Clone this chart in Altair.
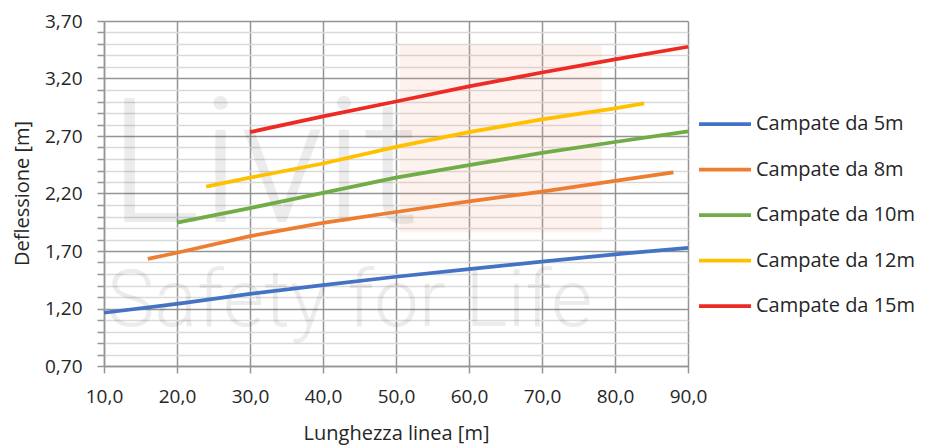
import altair as alt
import pandas as pd

# ---------------- data ----------------
series_names = ["Campate da 5m", "Campate da 8m", "Campate da 10m",
                "Campate da 12m", "Campate da 15m"]
series_colors = ["#4472C4", "#ED7D31", "#70AD47", "#FFC000", "#EE2A24"]

x_5m = [10, 20, 30, 40, 50, 60, 70, 80, 90]
y_5m = [1.163, 1.240, 1.327, 1.404, 1.476, 1.542, 1.608, 1.671, 1.728]

x_8m = [16, 20, 30, 40, 50, 60, 70, 80, 88]
y_8m = [1.631, 1.685, 1.829, 1.944, 2.039, 2.131, 2.217, 2.309, 2.384]

x_10m = [20, 30, 40, 50, 60, 70, 80, 90]
y_10m = [1.947, 2.073, 2.206, 2.338, 2.447, 2.553, 2.648, 2.740]

x_12m = [24, 30, 40, 50, 60, 70, 80, 84]
y_12m = [2.260, 2.338, 2.461, 2.605, 2.734, 2.844, 2.941, 2.984]

x_15m = [30, 40, 50, 60, 70, 80, 90]
y_15m = [2.734, 2.870, 3.000, 3.131, 3.252, 3.366, 3.476]

x_ticks = [10, 20, 30, 40, 50, 60, 70, 80, 90]
y_major = [0.7, 1.2, 1.7, 2.2, 2.7, 3.2, 3.7]
y_all = [round(0.7 + 0.1 * i, 1) for i in range(31)]

x_title = "Lunghezza linea [m]"
y_title = "Deflessione [m]"

# faint watermark
wm_texts = ["Livit", "Safety for Life"]
wm_x = [10.6, 10.4]
wm_y = [1.95, 1.05]
wm_rect_x = [50.5]
wm_rect_x2 = [78.2]
wm_rect_y = [3.49]
wm_rect_y2 = [1.86]

# ---------------- build table ----------------
rows = []
for name, xs, ys in zip(series_names,
                        [x_5m, x_8m, x_10m, x_12m, x_15m],
                        [y_5m, y_8m, y_10m, y_12m, y_15m]):
    for xv, yv in zip(xs, ys):
        rows.append({"serie": name, "lunghezza": xv, "deflessione": yv})
df = pd.DataFrame(rows)

wm_df = pd.DataFrame({"t": wm_texts, "x": wm_x, "y": wm_y})
rect_df = pd.DataFrame({"x": wm_rect_x, "x2": wm_rect_x2,
                        "y": wm_rect_y, "y2": wm_rect_y2})

FONT = "Open Sans"
TXT = "#262626"
GRID_MAJOR = "#959595"
GRID_MINOR = "#d9d9d9"

PLOT_W = 584
PLOT_H = 345

xscale = alt.Scale(domain=[10, 90], nice=False, zero=False)
yscale = alt.Scale(domain=[0.7, 3.7], nice=False, zero=False)

major_test = "round(datum.value*10) % 5 == 2"

x_axis = alt.Axis(
    values=x_ticks,
    labelExpr="replace(format(datum.value, '.1f'), '.', ',')",
    labelFlush=False, labelOverlap=False,
    grid=True, gridColor=GRID_MAJOR, gridWidth=1.5,
    tickSize=7, tickColor=GRID_MAJOR, tickWidth=1.5,
    domainColor=GRID_MAJOR, domainWidth=1.5,
    labelFont=FONT, labelFontSize=19, labelColor=TXT,
    labelBaseline="alphabetic", labelPadding=29,
    title=x_title, titleFont=FONT, titleFontSize=20, titleColor=TXT,
    titleFontWeight="normal", titleBaseline="alphabetic",
    titleX=292, titleY=73, titleAlign="center",
)

y_axis = alt.Axis(
    values=y_all,
    labelExpr="round(datum.value*10) % 5 == 2 ? replace(format(datum.value, '.2f'), '.', ',') : ''",
    labelFlush=False, labelOverlap=False,
    grid=True,
    gridColor={"condition": {"test": major_test, "value": GRID_MAJOR}, "value": GRID_MINOR},
    gridWidth=1.5,
    tickSize=7, tickColor=GRID_MAJOR, tickWidth=1.5,
    domainColor=GRID_MAJOR, domainWidth=1.5,
    labelFont=FONT, labelFontSize=19, labelColor=TXT, labelPadding=15,
    title=y_title, titleFont=FONT, titleFontSize=20, titleColor=TXT,
    titleFontWeight="normal", titleAngle=270, titleBaseline="alphabetic",
    titleAlign="center", titleX=-76, titleY=172,
)

rect = alt.Chart(rect_df).mark_rect(color="#F4A582", opacity=0.14).encode(
    x=alt.X("x:Q", scale=xscale, axis=x_axis),
    x2="x2:Q",
    y=alt.Y("y:Q", scale=yscale, axis=y_axis),
    y2="y2:Q",
)

wm = alt.Chart(wm_df).mark_text(
    align="left", baseline="alphabetic", font="Roboto", fontWeight=300,
    color="#000000", opacity=0.07,
).encode(
    x=alt.X("x:Q", scale=xscale, axis=x_axis),
    y=alt.Y("y:Q", scale=yscale, axis=y_axis),
    text="t:N",
    size=alt.Size("t:N", scale=alt.Scale(domain=wm_texts, range=[175, 80]), legend=None),
)

lines = alt.Chart(df).mark_line(strokeWidth=3.75, strokeCap="butt").encode(
    x=alt.X("lunghezza:Q", scale=xscale, axis=x_axis),
    y=alt.Y("deflessione:Q", scale=yscale, axis=y_axis),
    color=alt.Color(
        "serie:N",
        scale=alt.Scale(domain=series_names, range=series_colors),
        sort=series_names,
        legend=alt.Legend(
            title=None, orient="none", legendX=593, legendY=75,
            symbolType="stroke", symbolSize=2704, symbolStrokeWidth=3.75,
            labelFont=FONT, labelFontSize=20, labelColor=TXT,
            labelOffset=3, rowPadding=7.5, padding=0,
        ),
    ),
)

chart = alt.layer(rect, wm, lines).properties(
    width=PLOT_W, height=PLOT_H,
    padding={"left": 96, "top": 13, "right": 233, "bottom": 80},
    autosize=alt.AutoSizeParams(type="none"),
    background="white",
).configure_view(stroke=None)

chart.save("out.html", embed_options={"renderer": "svg", "actions": False})
